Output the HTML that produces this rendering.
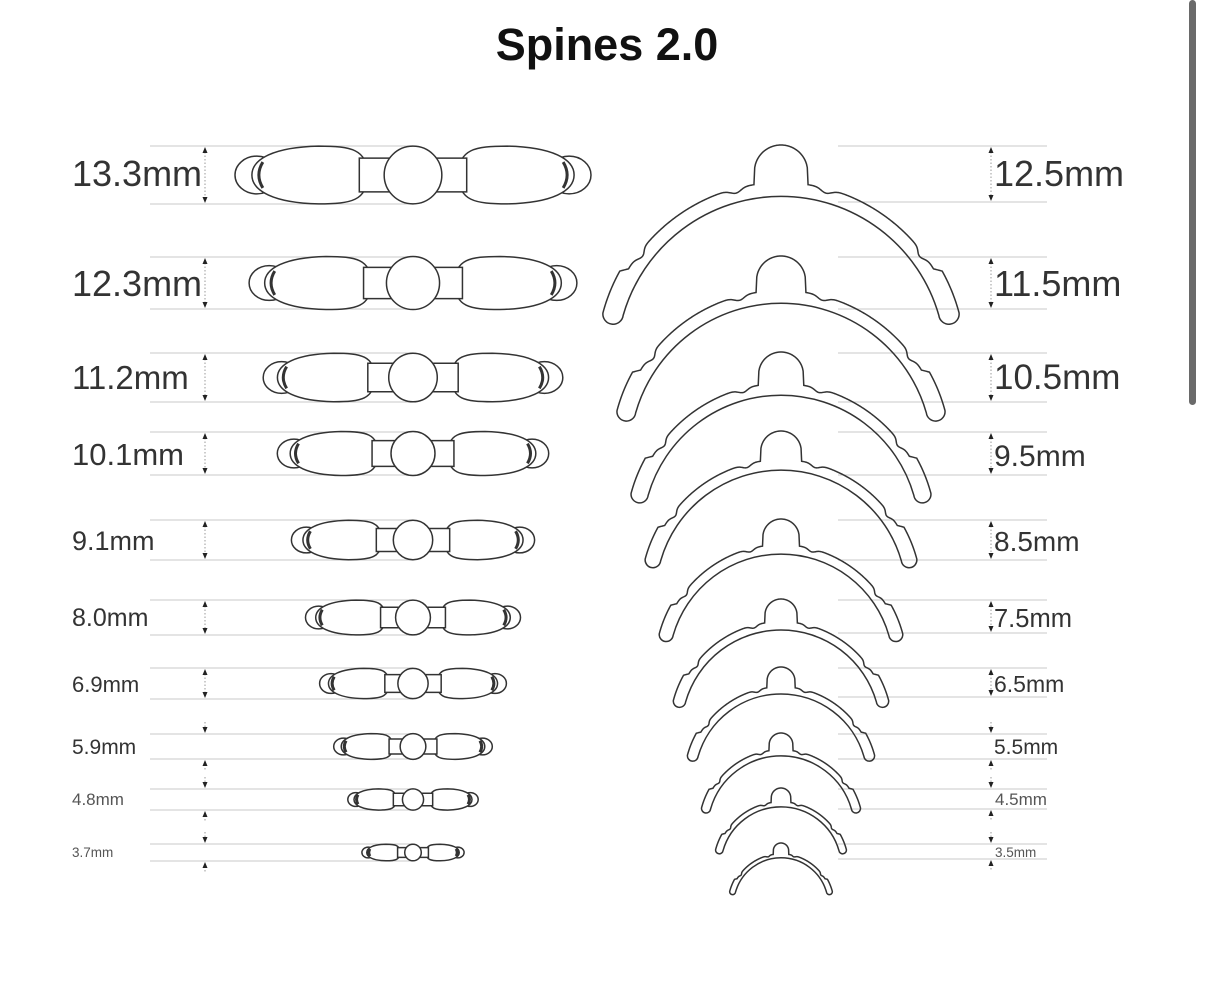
<!DOCTYPE html>
<html><head><meta charset="utf-8"><style>
html,body{margin:0;padding:0;background:#fff;}
body{width:1206px;height:1006px;overflow:hidden;position:relative;font-family:"Liberation Sans",sans-serif;}
svg{position:absolute;left:0;top:0;}
text{font-family:"Liberation Sans",sans-serif;fill:#333;}
</style></head><body>
<svg id="s" width="1206" height="1006" viewBox="0 0 1206 1006">
<rect x="1189" y="0" width="7" height="405" rx="3.5" fill="#6a6a6a"/>
<text x="607" y="60" font-size="45" font-weight="bold" text-anchor="middle" style="fill:#111">Spines 2.0</text>
<g id="lines"></g>
<g id="shapes"></g>
<g id="labels">
<text x="72" y="186" font-size="36">13.3mm</text>
<text x="72" y="296" font-size="36">12.3mm</text>
<text x="72" y="389" font-size="33">11.2mm</text>
<text x="72" y="465" font-size="31">10.1mm</text>
<text x="72" y="550" font-size="27">9.1mm</text>
<text x="72" y="626" font-size="25">8.0mm</text>
<text x="72" y="692" font-size="22">6.9mm</text>
<text x="72" y="754" font-size="21">5.9mm</text>
<text x="72" y="805" font-size="17" style="fill:#555">4.8mm</text>
<text x="72" y="857" font-size="13.5" style="fill:#555">3.7mm</text>
<text x="994" y="186" font-size="36">12.5mm</text>
<text x="994" y="296" font-size="36">11.5mm</text>
<text x="994" y="389" font-size="35">10.5mm</text>
<text x="994" y="466" font-size="30">9.5mm</text>
<text x="994" y="551" font-size="28">8.5mm</text>
<text x="994" y="627" font-size="25.5">7.5mm</text>
<text x="994" y="692" font-size="23">6.5mm</text>
<text x="994" y="754" font-size="21">5.5mm</text>
<text x="995" y="805" font-size="17" style="fill:#555">4.5mm</text>
<text x="995" y="857" font-size="13.5" style="fill:#555">3.5mm</text>
</g>
</svg>
<script>
(function(){
var NS="http://www.w3.org/2000/svg";
function el(p,t,a){var e=document.createElementNS(NS,t);for(var k in a)e.setAttribute(k,a[k]);p.appendChild(e);return e;}
var L=document.getElementById('lines'),S=document.getElementById('shapes');
var tops=[146,257,353,432,520,600,668,734,789,844];
var botsL=[204,309,402,475,560,635,699,759,810,861];
var botsR=[202,309,402,475,560,633,697,759,809,859];
function dim(x,t,b,outside){
  var c='#222';
  if(!outside){
    el(L,'line',{x1:x,y1:t+6,x2:x,y2:b-6,stroke:'#999','stroke-width':1,'stroke-dasharray':'1.5,2'});
    el(L,'path',{d:'M'+x+','+(t+1)+'l-2.5,6h5z',fill:c});
    el(L,'path',{d:'M'+x+','+(b-1)+'l-2.5,-6h5z',fill:c});
  }else{
    el(L,'line',{x1:x,y1:t-12,x2:x,y2:t-2,stroke:'#999','stroke-width':1,'stroke-dasharray':'1.5,2'});
    el(L,'path',{d:'M'+x+','+(t-1)+'l-2.5,-6h5z',fill:c});
    el(L,'line',{x1:x,y1:b+2,x2:x,y2:b+12,stroke:'#999','stroke-width':1,'stroke-dasharray':'1.5,2'});
    el(L,'path',{d:'M'+x+','+(b+1)+'l-2.5,6h5z',fill:c});
  }
}
for(var i=0;i<10;i++){
  var out=i>=7;
  el(L,'line',{x1:150,y1:tops[i],x2:413,y2:tops[i],stroke:'#d4d4d4','stroke-width':1.3});
  el(L,'line',{x1:150,y1:botsL[i],x2:413,y2:botsL[i],stroke:'#d4d4d4','stroke-width':1.3});
  dim(205,tops[i],botsL[i],out);
  el(L,'line',{x1:838,y1:tops[i],x2:1047,y2:tops[i],stroke:'#d4d4d4','stroke-width':1.3});
  el(L,'line',{x1:838,y1:botsR[i],x2:1047,y2:botsR[i],stroke:'#d4d4d4','stroke-width':1.3});
  dim(991,tops[i],botsR[i],out);
}
var st={fill:'#fff',stroke:'#333','stroke-width':1.5,'vector-effect':'non-scaling-stroke'};
function cp(o,x){var r={};for(var k in o)r[k]=o[k];for(var k in x)r[k]=x[k];return r;}
// left bars
for(var i=0;i<10;i++){
  var hw=178-i*14.1, s=hw/179, cy=(tops[i]+botsL[i])/2;
  var g=el(S,'g',{transform:'translate(413,'+cy+') scale('+s+')'});
  [-1,1].forEach(function(d){
    el(g,'ellipse',cp(st,{cx:157*d,cy:0,rx:22,ry:19}));
    el(g,'path',cp(st,{d:'M'+(46*d)+',0 C'+(46*d)+',-26 '+(62*d)+',-29 '+(95*d)+',-29 C'+(140*d)+',-28 '+(162*d)+',-16 '+(162*d)+',0 C'+(162*d)+',16 '+(140*d)+',28 '+(95*d)+',29 C'+(62*d)+',29 '+(46*d)+',26 '+(46*d)+',0 Z'}));
    el(g,'path',{d:'M'+(151*d)+',-13 Q'+(159*d)+',0 '+(151*d)+',13',fill:'none',stroke:'#333','stroke-width':3,'vector-effect':'non-scaling-stroke'});
    var x0=d<0?-54:22;
    el(g,'rect',cp(st,{x:x0,y:-17,width:32,height:34}));
  });
  el(g,'circle',cp(st,{cx:0,cy:0,r:29}));
}
// right arcs
var R=194,C=235,Ri=179,A=75;
function gs(x,w){return Math.exp(-x*x/(2*w*w));}
function arcPath(){
  var pts=[];
  for(var a=-A;a<=A;a+=0.25){
    var t=Math.abs(a);
    var r=R-5*gs(t-15,1.8)-5*gs(t-53,1.6)+7*Math.max(0,Math.min(1,(t-59)/2));
    var rad=a*Math.PI/180;
    var x=r*Math.sin(rad), y=C-r*Math.cos(rad);
    if(Math.abs(x)<29){var by=29-Math.sqrt(29*29-x*x); if(by<y)y=by;}
    pts.push([x,y]);
  }
  var d='M'+pts[0][0].toFixed(2)+','+pts[0][1].toFixed(2);
  for(var k=1;k<pts.length;k++)d+='L'+pts[k][0].toFixed(2)+','+pts[k][1].toFixed(2);
  var rad=(A-1)*Math.PI/180;
  var ix=Ri*Math.sin(rad), iy=C-Ri*Math.cos(rad);
  d+='A11,11 0 0 1 '+ix.toFixed(2)+','+iy.toFixed(2);
  d+='A'+Ri+','+Ri+' 0 0 0 '+(-ix).toFixed(2)+','+iy.toFixed(2);
  d+='A11,11 0 0 1 '+pts[0][0].toFixed(2)+','+pts[0][1].toFixed(2)+'Z';
  return d;
}
var ap=arcPath();
for(var i=0;i<10;i++){
  var hw=177-i*14, s=hw/193;
  var g=el(S,'g',{transform:'translate(781,'+(tops[i]-1)+') scale('+s+')'});
  el(g,'path',cp(st,{d:ap,fill:'none'}));
}
})();
</script>
</body></html>
